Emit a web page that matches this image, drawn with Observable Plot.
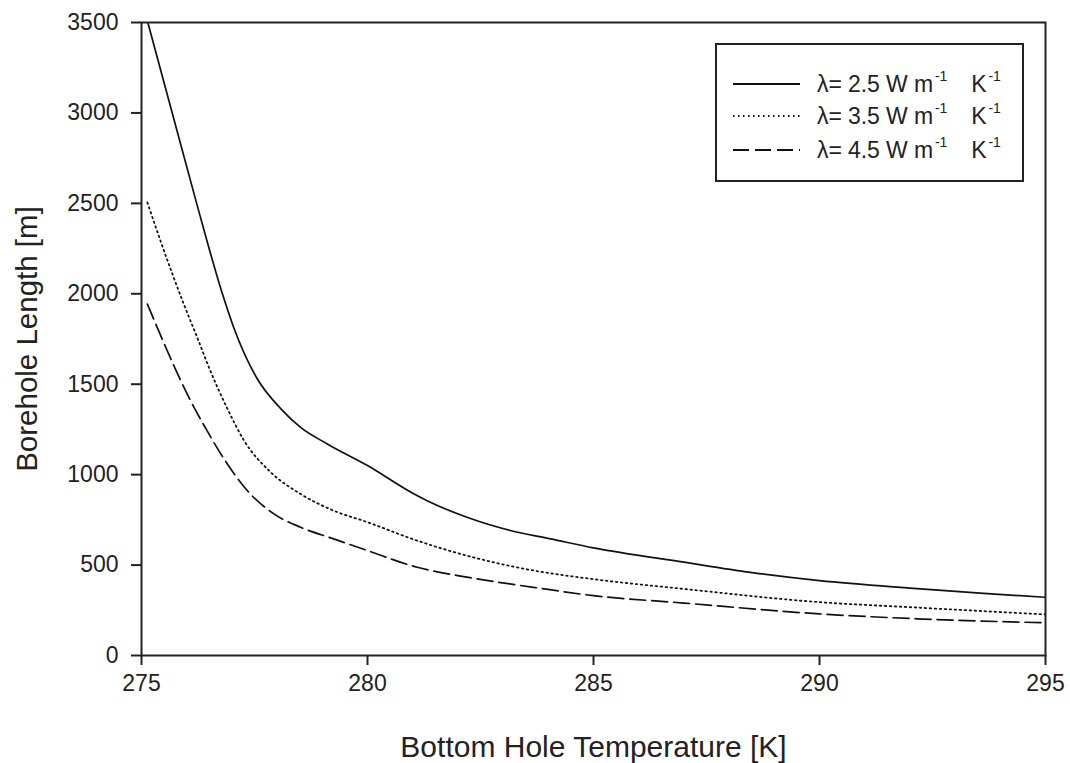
<!DOCTYPE html>
<html>
<head>
<meta charset="utf-8">
<script src="https://cdn.jsdelivr.net/npm/d3@7"></script>
<script src="https://cdn.jsdelivr.net/npm/@observablehq/plot@0.6"></script>
<style>
  html, body { margin: 0; padding: 0; background: #fff; }
  #wrap { position: relative; width: 1070px; height: 763px; font-family: "Liberation Sans", Arial, sans-serif; }
  #legend { position: absolute; left: 715px; top: 43px; width: 309px; height: 139px; border: 2px solid #222; box-sizing: border-box; background: #fff; }
  .row { position: absolute; left: 0; height: 30px; display: flex; align-items: center; white-space: nowrap; }
  .row svg { margin-left: 16px; }
  .row .lbl { margin-left: 17px; font-size: 23px; color: #222; letter-spacing: -0.1px; }
  .row sup { font-size: 14px; position: relative; top: -2px; margin-left: 2px; }
  .row .gap { display: inline-block; width: 24px; }
</style>
</head>
<body>
<div id="wrap"></div>
<script>
// ---- data ----
const seriesNames = ["λ= 2.5 W m-1 K-1", "λ= 3.5 W m-1 K-1", "λ= 4.5 W m-1 K-1"];
const legendHtml = [
  "λ= 2.5 W m<sup>-1</sup><i class='gap'></i>K<sup>-1</sup>",
  "λ= 3.5 W m<sup>-1</sup><i class='gap'></i>K<sup>-1</sup>",
  "λ= 4.5 W m<sup>-1</sup><i class='gap'></i>K<sup>-1</sup>"
];
const dashes = [null, "1.5,3.5", "16,6"];

const t25 = [275.14, 275.68, 276.22, 276.79, 277.04, 277.56, 278.08, 278.52, 279.11, 280.0, 281.03, 281.32, 282.2, 283.16, 284.05, 285.0, 287.0, 288.47, 290.0, 292.16, 293.63, 295.0];
const L25 = [3500, 3000, 2500, 2000, 1814, 1530, 1365, 1261, 1170, 1050, 893, 856, 764, 691, 645, 595, 516, 460, 414, 370, 343, 322];

const t35 = [275.13, 275.42, 275.94, 276.23, 276.53, 276.9, 277.26, 277.85, 278.52, 279.25, 280.0, 281.1, 282.2, 283.67, 285.0, 287.0, 290.0, 292.16, 295.0];
const L35 = [2505, 2293, 1940, 1760, 1570, 1365, 1192, 1015, 893, 801, 737, 635, 552, 470, 422, 368, 295, 265, 227];

const t45 = [275.13, 275.57, 276.01, 276.45, 276.9, 277.34, 277.93, 278.52, 279.25, 280.0, 281.1, 282.2, 283.67, 285.0, 287.0, 290.0, 292.16, 295.0];
const L45 = [1943, 1685, 1446, 1243, 1059, 912, 783, 709, 645, 580, 488, 433, 377, 331, 290, 230, 203, 181];

const xTicks = [275, 280, 285, 290, 295];
const yTicks = [0, 500, 1000, 1500, 2000, 2500, 3000, 3500];

// ---- build tables ----
const series = [[t25, L25], [t35, L35], [t45, L45]].map(([t, L], i) =>
  t.map((x, j) => ({x, y: L[j], s: seriesNames[i]})));

const lineMarks = series.map((data, i) =>
  Plot.line(data, {x: "x", y: "y", stroke: "#111", strokeWidth: i === 1 ? 1.8 : 1.7,
    strokeDasharray: dashes[i], curve: "monotone-x", clip: true}));

const chart = Plot.plot({
  width: 1070,
  height: 763,
  marginLeft: 141,
  marginRight: 25,
  marginTop: 22,
  marginBottom: 108,
  style: {fontFamily: "'Liberation Sans', Arial, sans-serif", fontSize: "23px", color: "#222", background: "#fff"},
  x: {domain: [275, 295]},
  y: {domain: [0, 3500]},
  marks: [
    ...lineMarks,
    Plot.frame({stroke: "#222", strokeWidth: 2}),
    Plot.axisX({ticks: xTicks, tickSize: 10, tickPadding: 9, tickFormat: d => String(d), label: null, strokeWidth: 2, fontSize: 23}),
    Plot.axisX({ticks: [], tickSize: 0, label: "Bottom Hole Temperature [K]", labelAnchor: "center", labelArrow: "none", labelOffset: 101, fontSize: 30}),
    Plot.axisY({ticks: yTicks, tickSize: 10, tickPadding: 13, tickFormat: d => String(d), label: null, strokeWidth: 2, fontSize: 23}),
    Plot.axisY({ticks: [], tickSize: 0, label: "Borehole Length [m]", labelAnchor: "center", labelArrow: "none", labelOffset: 125, fontSize: 29.5})
  ]
});

const wrap = document.getElementById("wrap");
wrap.appendChild(chart);

// legend
const legend = document.createElement("div");
legend.id = "legend";
const rowTops = [39, 71, 105];
seriesNames.forEach((name, i) => {
  const row = document.createElement("div");
  row.className = "row";
  row.style.top = (rowTops[i] - 15) + "px";
  const svg = d3.create("svg").attr("width", 67).attr("height", 10);
  svg.append("line").attr("x1", 0).attr("x2", 67).attr("y1", 5).attr("y2", 5)
    .attr("stroke", "#111").attr("stroke-width", 1.8)
    .attr("stroke-dasharray", dashes[i]);
  row.appendChild(svg.node());
  const span = document.createElement("span");
  span.className = "lbl";
  span.innerHTML = legendHtml[i];
  row.appendChild(span);
  legend.appendChild(row);
});
wrap.appendChild(legend);
</script>
</body>
</html>
